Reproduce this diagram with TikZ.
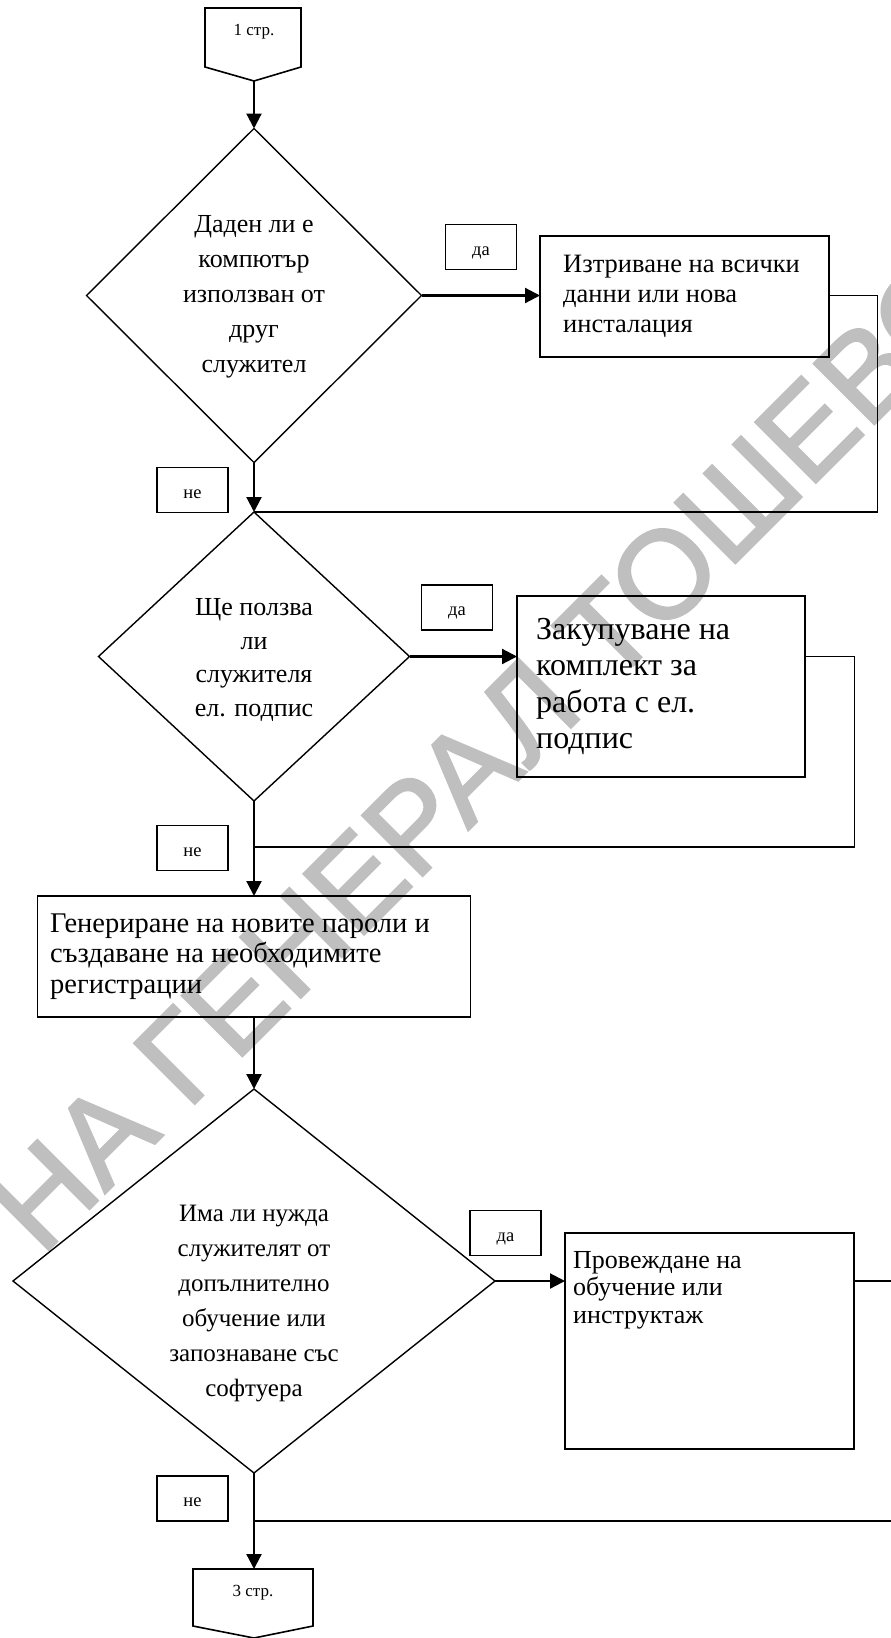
\documentclass[tikz,border=0pt]{standalone}
\usepackage{fontspec}
\setmainfont{Liberation Serif}
\newfontfamily\wmfont[FakeBold=2]{Liberation Sans}
\usetikzlibrary{shapes.geometric,arrows.meta}

\begin{document}
\begin{tikzpicture}[x=1pt,y=-1pt]
\tikzset{
  decision/.style={draw, line width=1.4pt, shape=diamond, inner sep=0pt, outer sep=0pt},
  dtext/.style={inner sep=0pt, align=center},
  procbox/.style={draw, line width=1.8pt, rectangle, inner sep=0pt, outer sep=0pt},
  boxtext/.style={inner sep=0pt, align=left},
  answer/.style={draw, line width=1.6pt, rectangle, minimum width=71pt, minimum height=45pt,
    inner sep=0pt, outer sep=0pt, text height=16.6pt, text depth=0pt,
    font=\fontsize{18.5}{20}\selectfont},
  flowarrow/.style={line width=2.2pt, -{Triangle[length=15pt,width=15pt]}},
  loopline/.style={line width=1.6pt},
  offpage/.style={draw, line width=1.6pt, line join=miter},
  pagetext/.style={inner sep=0pt, font=\fontsize{17}{20}\selectfont},
}
\useasboundingbox (0,0) rectangle (891,1638);
\clip (0,0) rectangle (891,1638);

% watermark behind the chart
\node[text=black!25, rotate=45, inner sep=0pt, font=\wmfont\fontsize{124}{124}\selectfont]
  (wm) at (486,752) {НА ГЕНЕРАЛ ТОШЕВО};

% off-page connector at the top
\draw[offpage] (205,8) -- (301,8) -- (301,67) -- (254,81) -- (205,67) -- cycle;
\node[pagetext] (c1) at (254,32) {1 стр.};
\coordinate (c1tip) at (254,81);

% decisions
\node[decision, minimum width=335pt, minimum height=334pt] (d1) at (254,295.5) {};
\node[dtext, font=\fontsize{26}{35}\selectfont] (d1t) at (254,297)
  {Даден ли е\\компютър\\използван от\\друг\\служител};
\node[decision, minimum width=311pt, minimum height=289pt] (d2) at (254,656.5) {};
\node[dtext, font=\fontsize{26}{33.5}\selectfont] (d2t) at (254,660)
  {Ще ползва\\ли\\служителя\\ел. подпис};
\node[decision, minimum width=482pt, minimum height=384pt] (d3) at (254,1281) {};
\node[dtext, font=\fontsize{25}{35}\selectfont] (d3t) at (254,1303)
  {Има ли нужда\\служителят от\\допълнително\\обучение или\\запознаване със\\софтуера};

% process boxes
\node[procbox, minimum width=289pt, minimum height=121pt] (b1) at (684.5,296.5) {};
\node[boxtext, anchor=west, font=\fontsize{26.5}{30}\selectfont] (b1t) at (563,296.5)
  {Изтриване на всички\\данни или нова\\инсталация};
\node[procbox, minimum width=288pt, minimum height=181pt] (b2) at (661,686.5) {};
\node[boxtext, anchor=west, font=\fontsize{32}{36.5}\selectfont] (b2t) at (536,686.5)
  {Закупуване на\\комплект за\\работа с ел.\\подпис};
\node[procbox, minimum width=433pt, minimum height=121pt] (b3) at (254,956.5) {};
\node[boxtext, anchor=west, font=\fontsize{28.5}{30.5}\selectfont] (b3t) at (50,956.5)
  {Генериране на новите пароли и\\създаване на необходимите\\регистрации};
\node[procbox, minimum width=289pt, minimum height=216pt] (b4) at (709.5,1341) {};
\node[boxtext, anchor=north west, font=\fontsize{26}{27.5}\selectfont] (b4t) at (573,1251)
  {Провеждане на\\обучение или\\инструктаж};

% yes / no labels
\node[answer] (y1) at (481,247) {да};
\node[answer] (y2) at (457,607.5) {да};
\node[answer] (y3) at (505.5,1233) {да};
\node[answer] (n1) at (192.5,490) {не};
\node[answer] (n2) at (192.5,848) {не};
\node[answer] (n3) at (192.5,1498.5) {не};

% off-page connector at the bottom
\draw[offpage] (193,1569) -- (313,1569) -- (313,1626) -- (254,1638) -- (193,1626) -- cycle;
\node[pagetext] (c3) at (253,1593) {3 стр.};
\coordinate (c3top) at (254,1569);

% return paths and junctions
\coordinate (r1) at (877.5,400);
\coordinate (r2) at (854.5,750);
\coordinate (r3) at (905,1400);
\coordinate (j2) at (254,847);
\coordinate (j3) at (254,1521);

% main flow
\draw[flowarrow] (c1tip) -- (d1.north);
\draw[flowarrow] (d1.east) -- (d1.east -| b1.west);
\draw[flowarrow] (d1.south) -- (d2.north);
\draw[flowarrow] (d2.east) -- (d2.east -| b2.west);
\draw[flowarrow] (d2.south) -- (b3.north);
\draw[flowarrow] (b3.south) -- (d3.north);
\draw[flowarrow] (d3.east) -- (d3.east -| b4.west);
\draw[flowarrow] (d3.south) -- (c3top);

% loops back to the main line
\draw[loopline] (d1.east -| b1.east) -| (r1) |- (d2.north);
\draw[loopline] (d2.east -| b2.east) -| (r2) |- (j2);
\draw[loopline] (d3.east -| b4.east) -| (r3) |- (j3);
\end{tikzpicture}
\end{document}
